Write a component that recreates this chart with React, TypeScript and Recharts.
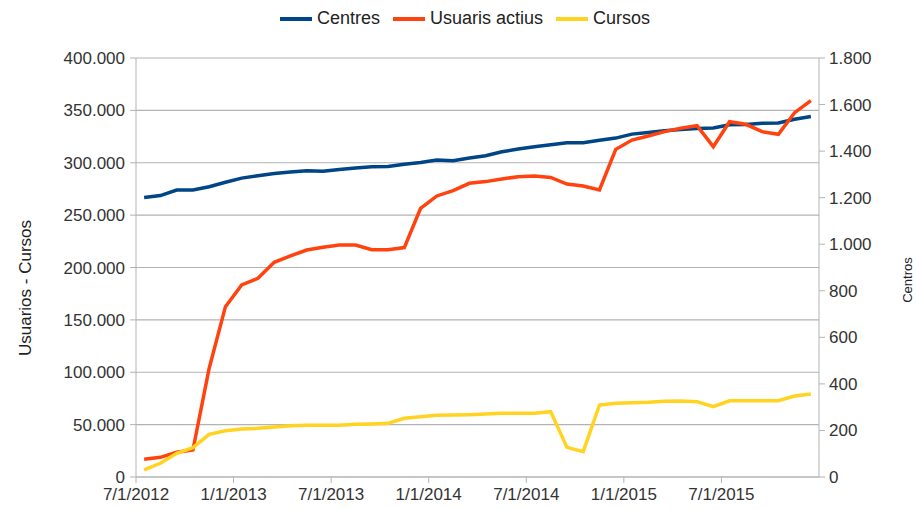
import { LineChart, Line, XAxis, YAxis, CartesianGrid, Legend } from 'recharts';

// months from 7/2012 to 12/2015 (one point per month)
const months = [
  '7/2012', '8/2012', '9/2012', '10/2012', '11/2012', '12/2012',
  '1/2013', '2/2013', '3/2013', '4/2013', '5/2013', '6/2013',
  '7/2013', '8/2013', '9/2013', '10/2013', '11/2013', '12/2013',
  '1/2014', '2/2014', '3/2014', '4/2014', '5/2014', '6/2014',
  '7/2014', '8/2014', '9/2014', '10/2014', '11/2014', '12/2014',
  '1/2015', '2/2015', '3/2015', '4/2015', '5/2015', '6/2015',
  '7/2015', '8/2015', '9/2015', '10/2015', '11/2015', '12/2015',
];

const centres = [
  1201, 1209, 1233, 1233, 1247, 1266, 1284, 1294, 1304, 1310, 1316, 1314,
  1321, 1327, 1333, 1334, 1344, 1351, 1362, 1359, 1370, 1380, 1397, 1409,
  1419, 1427, 1436, 1436, 1447, 1456, 1473, 1480, 1487, 1493, 1497, 1499,
  1513, 1514, 1520, 1521, 1537, 1549,
];

const usuaris = [
  16900, 18800, 23600, 25800, 103800, 162600, 183300, 189700, 205000, 211000, 216700, 219300,
  221500, 221500, 217000, 217000, 219000, 256500, 268300, 273400, 280400, 282000, 284500, 286700,
  287400, 286000, 279700, 277800, 274000, 312800, 321700, 325600, 329700, 332900, 335400, 315400,
  339200, 336700, 329700, 327200, 347800, 359300,
];

const cursos = [
  6700, 13100, 22600, 28000, 40700, 44200, 45800, 46500, 47700, 49000, 49400, 49400,
  49400, 50300, 50600, 51200, 56000, 57600, 58900, 59200, 59500, 60100, 60800, 60800,
  60800, 62400, 28300, 24200, 68700, 70300, 70900, 71300, 72300, 72600, 71900, 67100,
  72800, 72800, 72800, 72800, 77300, 79200,
];

// tick positions in months since 7/1/2012, with their labels
const xTicks = [0, 6, 12, 18, 24, 30, 36];
const xTickLabels = ['7/1/2012', '1/1/2013', '7/1/2013', '1/1/2014', '7/1/2014', '1/1/2015', '7/1/2015'];

const leftTicks = [0, 50000, 100000, 150000, 200000, 250000, 300000, 350000, 400000];
const rightTicks = [0, 200, 400, 600, 800, 1000, 1200, 1400, 1600, 1800];

const seriesNames = ['Centres', 'Usuaris actius', 'Cursos'];
const colors = ['#004586', '#ff420e', '#ffd320'];

// each month is drawn at its middle
const data = months.map((m, i) => ({
  month: m,
  x: i + 0.5,
  centres: centres[i],
  usuaris: usuaris[i],
  cursos: cursos[i],
}));

const font = '"Liberation Sans", Arial, sans-serif';
const gray = '#b3b3b3';
const textColor = '#333';

const fmt = (v: number) => String(v).replace(/\B(?=(\d{3})+(?!\d))/g, '.');

function LegendContent() {
  return (
    <div
      style={{
        display: 'flex',
        justifyContent: 'center',
        alignItems: 'center',
        gap: 13,
        fontFamily: font,
        fontSize: 18,
        color: '#222',
        paddingLeft: 14,
      }}
    >
      {seriesNames.map((n, i) => (
        <div key={n} style={{ display: 'flex', alignItems: 'center' }}>
          <span style={{ display: 'inline-block', width: 32, height: 4, background: colors[i], marginRight: 5 }} />
          <span>{n}</span>
        </div>
      ))}
    </div>
  );
}

export default function App() {
  return (
    <div style={{ position: 'absolute', left: 0, top: 0 }}>
      <LineChart
        width={916}
        height={509}
        data={data}
        margin={{ top: 58, right: 0, bottom: 0, left: 0 }}
      >
        <CartesianGrid yAxisId="left" vertical={false} stroke={gray} strokeWidth={1.2} />
        <XAxis
          dataKey="x"
          type="number"
          domain={[0, 42]}
          ticks={xTicks}
          tickFormatter={(v: number) => xTickLabels[xTicks.indexOf(v)] ?? ''}
          height={32}
          stroke={gray}
          tickSize={6}
          tickMargin={5}
          tick={{ fill: textColor, fontSize: 17, fontFamily: font }}
          interval={0}
        />
        <YAxis
          yAxisId="left"
          domain={[0, 400000]}
          ticks={leftTicks}
          tickFormatter={fmt}
          width={136}
          stroke={gray}
          tickSize={6}
          tickMargin={5}
          tick={{ fill: textColor, fontSize: 17, fontFamily: font }}
          label={{
            content: () => (
              <text
                x={25}
                y={288}
                transform="rotate(-90 25 288)"
                textAnchor="middle"
                dominantBaseline="central"
                fill="#222"
                fontSize={17}
                fontFamily={font}
              >
                Usuarios - Cursos
              </text>
            ),
          }}
        />
        <YAxis
          yAxisId="right"
          orientation="right"
          domain={[0, 1800]}
          ticks={rightTicks}
          tickFormatter={fmt}
          width={97}
          stroke={gray}
          tickSize={6}
          tickMargin={4}
          tick={{ fill: textColor, fontSize: 17, fontFamily: font }}
          label={{
            content: () => (
              <text
                x={907}
                y={280}
                transform="rotate(-90 907 280)"
                textAnchor="middle"
                dominantBaseline="central"
                fill="#222"
                fontSize={13}
                fontFamily={font}
              >
                Centros
              </text>
            ),
          }}
        />
        <Legend
          layout="horizontal"
          verticalAlign="middle"
          align="center"
          wrapperStyle={{ top: 8, left: 0, width: 916 }}
          content={() => <LegendContent />}
        />
        <Line
          yAxisId="right"
          dataKey="centres"
          name="Centres"
          stroke={colors[0]}
          strokeWidth={3.5}
          dot={false}
          type="linear"
          isAnimationActive={false}
        />
        <Line
          yAxisId="left"
          dataKey="usuaris"
          name="Usuaris actius"
          stroke={colors[1]}
          strokeWidth={3.5}
          dot={false}
          type="linear"
          isAnimationActive={false}
        />
        <Line
          yAxisId="left"
          dataKey="cursos"
          name="Cursos"
          stroke={colors[2]}
          strokeWidth={3.5}
          dot={false}
          type="linear"
          isAnimationActive={false}
        />
      </LineChart>
    </div>
  );
}
